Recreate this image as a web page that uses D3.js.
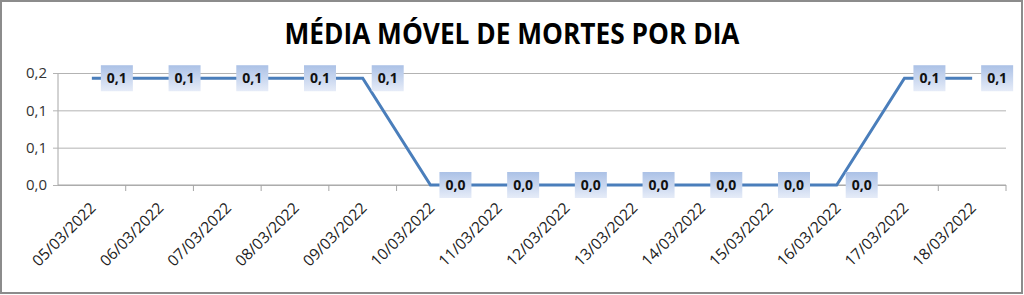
<!DOCTYPE html>
<html lang="pt">
<head>
<meta charset="UTF-8">
<title>Média móvel de mortes por dia</title>
<script src="https://cdnjs.cloudflare.com/ajax/libs/d3/7.8.5/d3.min.js"></script>
<style>
  body { margin: 0; background: #fff; }
  svg { display: block; }
</style>
</head>
<body>
<svg id="chart" width="1024" height="295"></svg>
<script>
// data
var dates = ["05/03/2022", "06/03/2022", "07/03/2022", "08/03/2022", "09/03/2022",
             "10/03/2022", "11/03/2022", "12/03/2022", "13/03/2022", "14/03/2022",
             "15/03/2022", "16/03/2022", "17/03/2022", "18/03/2022"];
var mediaMovel = [0.143, 0.143, 0.143, 0.143, 0.143,
                  0, 0, 0, 0, 0, 0, 0,
                  0.143, 0.143];
var yTicks = [0, 0.05, 0.1, 0.15];
var yTickLabels = ["0,0", "0,1", "0,1", "0,2"];
var title = "MÉDIA MÓVEL DE MORTES POR DIA";

function draw() {
  var svg = d3.select("#chart");
  var left = 58, right = 1006, top = 73, bottom = 185;

  var fmt = d3.formatLocale({decimal: ",", thousands: ".", grouping: [3], currency: ["R$", ""]}).format(".1f");

  var x = d3.scaleBand().domain(dates).range([left, right]);
  var y = d3.scaleLinear().domain([0, 0.15]).range([bottom, top]);

  // outer frame
  svg.append("rect")
    .attr("x", 1).attr("y", 1).attr("width", 1021).attr("height", 292)
    .attr("fill", "#fff").attr("stroke", "#8c8c8c").attr("stroke-width", 2);

  var defs = svg.append("defs");
  var grad = defs.append("linearGradient").attr("id", "lblGrad")
    .attr("x1", 0).attr("y1", 0).attr("x2", 0).attr("y2", 1);
  grad.append("stop").attr("offset", "0%").attr("stop-color", "#abc1e6");
  grad.append("stop").attr("offset", "100%").attr("stop-color", "#e6ecf8");

  svg.append("text")
    .attr("x", 512).attr("y", 44)
    .attr("text-anchor", "middle")
    .attr("font-family", "'Open Sans', sans-serif")
    .attr("font-weight", "bold")
    .attr("font-size", 28)
    .attr("textLength", 455)
    .attr("lengthAdjust", "spacingAndGlyphs")
    .attr("fill", "#000")
    .text(title);

  // y axis + gridlines
  var yAxis = d3.axisLeft(y)
    .tickValues(yTicks)
    .tickSize(-(right - left))
    .tickPadding(11)
    .tickFormat((d, i) => yTickLabels[i]);
  var gy = svg.append("g").attr("transform", "translate(" + left + ",0)").call(yAxis);
  gy.select(".domain").attr("stroke", "#a6a6a6").attr("d", "M0," + top + "V" + bottom);
  gy.selectAll(".tick line").attr("stroke", "#b3b3b3").attr("x1", -5);
  gy.selectAll(".tick text")
    .attr("font-family", "'Open Sans', sans-serif")
    .attr("font-size", 15)
    .attr("fill", "#333");

  // x axis
  var xAxis = d3.axisBottom(x).tickSize(0).tickFormat("");
  var gx = svg.append("g").attr("transform", "translate(0," + bottom + ")").call(xAxis);
  gx.select(".domain").attr("stroke", "#a6a6a6").attr("d", "M" + left + ",0H" + right);
  gx.selectAll(".bnd").data(dates).enter().append("line")
    .attr("x1", d => x(d) + x.bandwidth()).attr("x2", d => x(d) + x.bandwidth())
    .attr("y1", 0).attr("y2", 6)
    .attr("stroke", "#a6a6a6");

  svg.append("g").selectAll("text").data(dates).enter().append("text")
    .attr("transform", d => "translate(" + (x(d) + x.bandwidth() / 2 + 5) + ",209) rotate(-45)")
    .attr("text-anchor", "end")
    .attr("font-family", "'Open Sans', sans-serif")
    .attr("font-size", 15.5)
    .attr("fill", "#222")
    .text(d => d);

  var cx = (d, i) => x(dates[i]) + x.bandwidth() / 2;

  var line = d3.line()
    .x((d, i) => cx(d, i))
    .y(d => y(d));

  svg.append("path")
    .attr("d", line(mediaMovel))
    .attr("fill", "none")
    .attr("stroke", "#4a7ebb")
    .attr("stroke-width", 3)
    .attr("stroke-linejoin", "miter");

  // data labels
  var lbl = svg.append("g").selectAll("g").data(mediaMovel).enter().append("g")
    .attr("transform", (d, i) => "translate(" + (cx(d, i) + 9) + "," + y(d) + ")");
  lbl.append("rect")
    .attr("x", 0).attr("y", -13).attr("width", 32).attr("height", 26)
    .attr("fill", "url(#lblGrad)");
  lbl.append("text")
    .attr("x", 16).attr("y", 5)
    .attr("text-anchor", "middle")
    .attr("font-family", "'Open Sans', sans-serif")
    .attr("font-weight", "bold")
    .attr("font-size", 14)
    .attr("fill", "#111")
    .text(d => fmt(d));
}
draw();
</script>
</body>
</html>
